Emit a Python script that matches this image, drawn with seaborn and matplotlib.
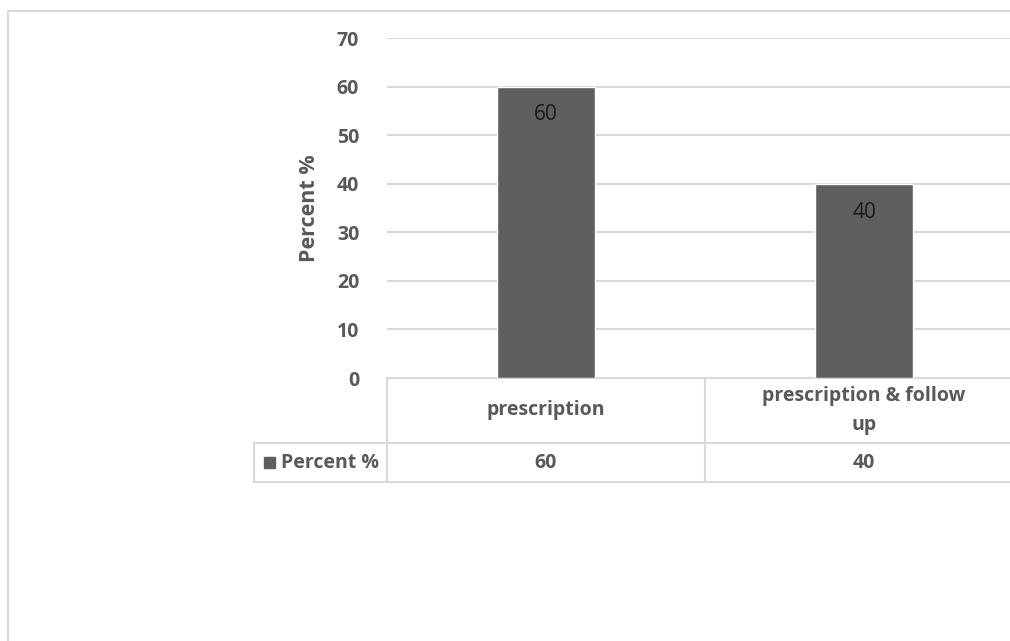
import textwrap
import matplotlib
matplotlib.use("Agg")
import matplotlib.pyplot as plt
from matplotlib.lines import Line2D
from matplotlib.patches import Rectangle
import seaborn as sns
import pandas as pd

# Chart data
categories = ["prescription", "prescription & follow up"]
values = [60, 40]
series_name = "Percent %"
y_ticks = [0, 10, 20, 30, 40, 50, 60, 70]

BAR = "#5f5f5f"
GRID = "#d9d9d9"
TXT = "#595959"
FONT = ["Open Sans", "DejaVu Sans"]

sns.set_theme(style="white")
plt.rcParams["font.family"] = FONT

df = pd.DataFrame({"category": categories, "value": values})

W, H = 1010, 641
fig = plt.figure(figsize=(W / 100, H / 100), dpi=100)
fig.patch.set_facecolor("white")
fig.patch.set_edgecolor("white")

# plot area in pixel geometry (right edge runs past the canvas)
x0, x1 = 387, 1023
y_top, y_base = 38, 378
ax = fig.add_axes([x0 / W, (H - y_base) / H, (x1 - x0) / W, (y_base - y_top) / H])
ax.patch.set_linewidth(0)

sns.barplot(data=df, x="category", y="value", color=BAR, width=0.31,
            saturation=1, ax=ax, zorder=3)
ax.set_xlim(-0.5, 1.5)
ax.set_ylim(0, 70)
ax.set_yticks(y_ticks)
ax.yaxis.grid(True, color=GRID, linewidth=1.5)
ax.set_axisbelow(True)
for s in ax.spines.values():
    s.set_visible(False)
ax.tick_params(axis="y", length=0, pad=20, labelcolor=TXT, labelsize=14)
for lab in ax.get_yticklabels():
    lab.set_fontweight("bold")
ax.set_xticks([])
ax.set_xlabel("")
ax.set_ylabel(series_name, fontsize=15.5, fontweight="bold", color=TXT, labelpad=12)

# value labels inside the bar tops
for cont in ax.containers:
    ax.bar_label(cont, labels=[f"{v:g}" for v in values], padding=-28,
                 fontsize=15, color="#1a1a1a")

# data table under the axis
axh = y_base - y_top
def fy(py):
    return -(py - y_base) / axh

tr = ax.get_xaxis_transform()
row1 = fy(443)
row2 = fy(482)
left_x = -0.5 + (254 - x0) / ((x1 - x0) / 2)
lw = 1.5
def hline(xa, xb, y):
    ax.add_line(Line2D([xa, xb], [y, y], transform=tr, color=GRID, lw=lw, clip_on=False))
def vline(x, ya, yb):
    ax.add_line(Line2D([x, x], [ya, yb], transform=tr, color=GRID, lw=lw, clip_on=False))

hline(-0.5, 1.5, 0)
hline(left_x, 1.5, row1)
hline(left_x, 1.5, row2)
vline(left_x, row1, row2)
for xb in [-0.5, 0.5]:
    vline(xb, 0, row2)

for i, (cat, v) in enumerate(zip(categories, values)):
    ax.text(i, (0 + row1) / 2, textwrap.fill(cat, 21), transform=tr,
            ha="center", va="center", fontsize=14, fontweight="bold",
            color=TXT, linespacing=1.55)
    ax.text(i, (row1 + row2) / 2, f"{v:g}", transform=tr, ha="center",
            va="center", fontsize=14, fontweight="bold", color=TXT)

# legend key in the table's first column
ky = (row1 + row2) / 2
ax.add_patch(Rectangle((-0.5 + (264 - x0) / 318, fy(468)), 11 / 318, 11 / axh,
                       transform=tr, color=BAR, clip_on=False))
ax.text(-0.5 + (281 - x0) / 318, ky, series_name, transform=tr, ha="left",
        va="center", fontsize=14, fontweight="bold", color=TXT)

# outer chart frame
fig.add_artist(Line2D([8 / W, 8 / W], [0, (H - 11) / H], color=GRID, lw=1.5))
fig.add_artist(Line2D([8 / W, 1], [(H - 11) / H, (H - 11) / H], color=GRID, lw=1.5))

fig.savefig("out.png", dpi=100, facecolor="white", edgecolor="white")
